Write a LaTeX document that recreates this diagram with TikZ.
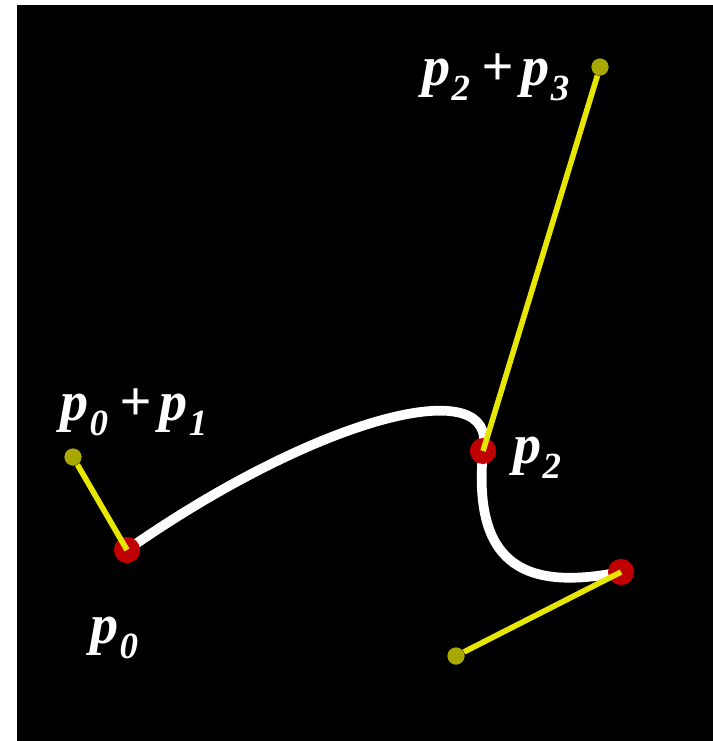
\documentclass[tikz,border=0pt]{standalone}
\usepackage{fontspec}
\setmainfont{Liberation Serif}[
  ItalicFont={Liberation Serif Italic},
  BoldFont={Liberation Serif Bold},
  BoldItalicFont={Liberation Serif Bold Italic}]
\usetikzlibrary{positioning}
\definecolor{bezred}{HTML}{C00000}
\definecolor{armyellow}{HTML}{E6E600}
\definecolor{tipyellow}{HTML}{A8A800}
\newcommand{\pvar}[1]{p\kern0.02em\raisebox{-0.6ex}{\fontsize{21}{23}\selectfont #1}}
\newcommand{\plus}{\hspace{0.2em}+\hspace{0.15em}}
\tikzset{
  ctrl/.style={circle, fill=bezred, inner sep=0pt, minimum size=0.52cm},
  tip/.style={circle, fill=tipyellow, inner sep=0pt, minimum size=0.34cm},
  curve/.style={draw=white, line width=5.5pt},
  arm/.style={draw=armyellow, line width=3.2pt},
  lbl/.style={text=white, font=\fontsize{32}{36}\selectfont\bfseries\itshape,
    inner sep=0pt, anchor=base west}
}

\begin{document}
\begin{tikzpicture}[x=0.02cm,y=-0.02cm]
  \useasboundingbox (0,0) rectangle (713,741);
  \fill[black] (17,5) rectangle (713,741);

  % control points and handle ends
  \node[ctrl] (P0) at (127,550) {};
  \node[ctrl] (P2) at (483,451) {};
  \node[ctrl] (P4) at (621,572) {};
  \node[tip]  (H1) at (73,457) {};
  \node[tip]  (H3) at (600,67) {};
  \node[tip]  (H5) at (456,656) {};

  % spline
  \draw[curve] (P0.center) .. controls (320,415) and (500,370) .. (P2.center)
                           .. controls (472,570) and (530,590) .. (P4.center);
  \node[ctrl] at (P0) {};
  \node[ctrl] at (P2) {};
  \node[ctrl] at (P4) {};

  % tangent handles
  \draw[arm] (P0.center) -- (H1);
  \draw[arm] (P2.center) -- (H3);
  \draw[arm] (P4.center) -- (H5);
  \node[tip] at (H1) {};
  \node[tip] at (H3) {};
  \node[tip] at (H5) {};

  % labels
  \node[lbl] (L01) at (60,420)  {\pvar{0}\plus\pvar{1}};
  \node[lbl] (L23) at (422,85)  {\pvar{2}\plus\pvar{3}};
  \node[lbl] (L2)  at (513,463) {\pvar{2}};
  \node[lbl] (L0)  at (90,643)  {\pvar{0}};
\end{tikzpicture}
\end{document}
